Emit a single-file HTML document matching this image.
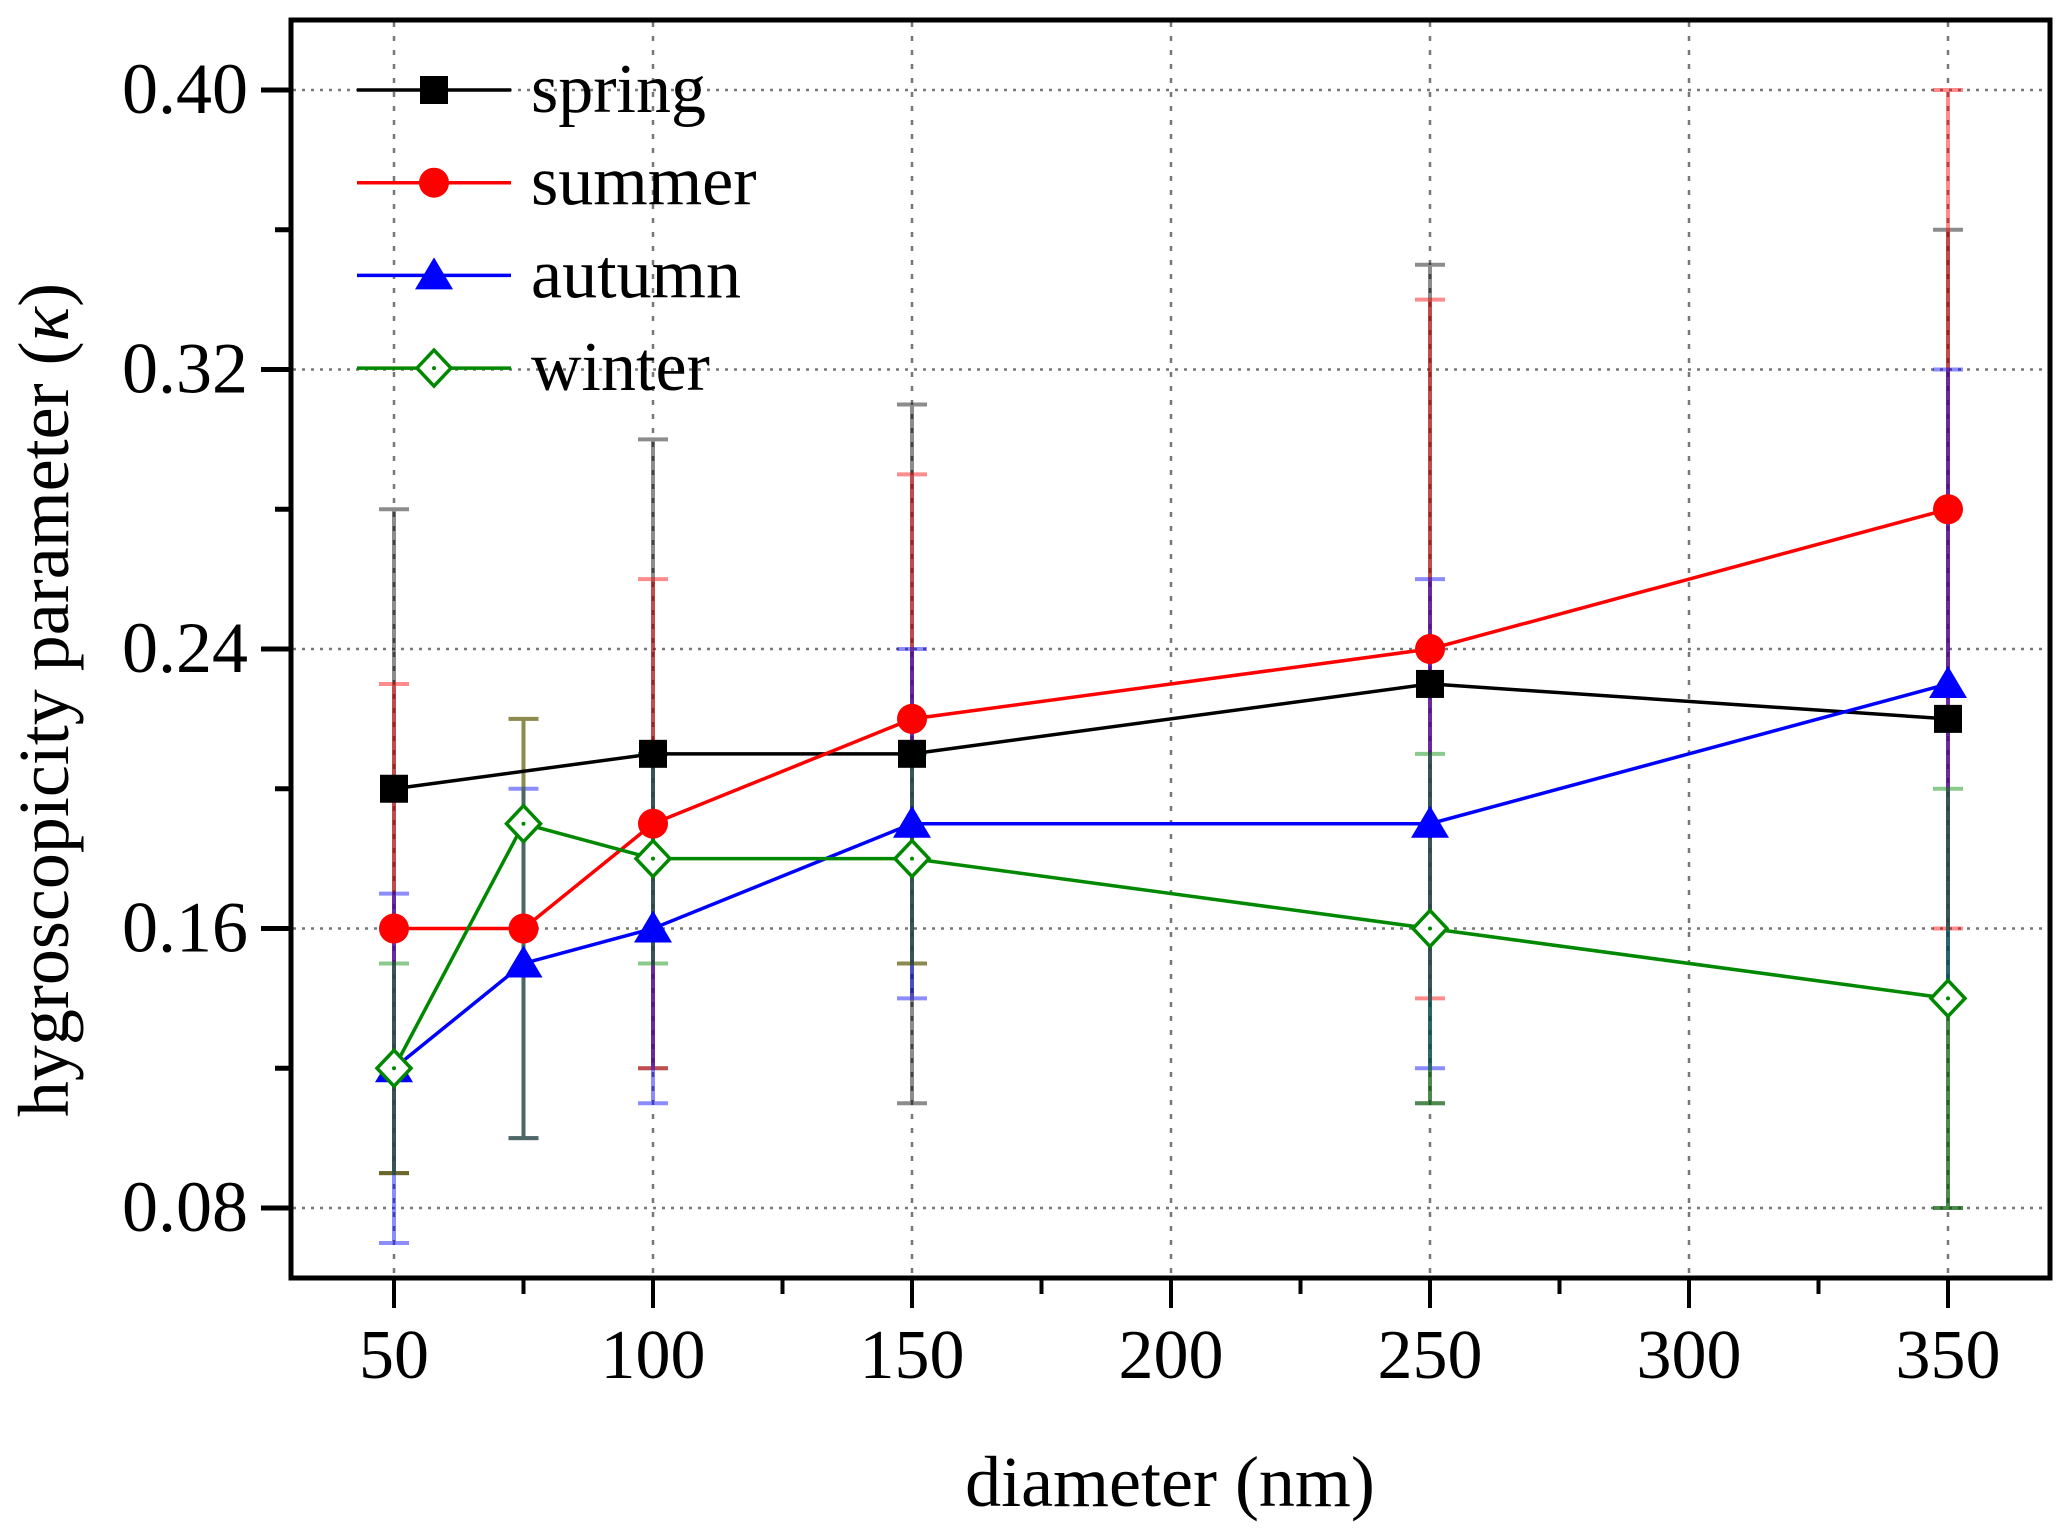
<!DOCTYPE html>
<html><head><meta charset="utf-8"><style>
html,body{margin:0;padding:0;background:#fff}
svg{display:block}
text{font-family:"Liberation Serif",serif;fill:#000}
</style></head><body>
<svg id="chart" width="2067" height="1539" viewBox="0 0 2067 1539">
<g id="grid"></g>
<g id="errs"></g>
<g id="lines"></g>
<rect x="291" y="20" width="1759" height="1258" fill="none" stroke="#000" stroke-width="5"/>
<g id="axes"></g>
<text x="1170" y="1506" font-size="72" text-anchor="middle">diameter (nm)</text>
<text transform="translate(68,700) rotate(-90)" font-size="72" text-anchor="middle">hygroscopicity parameter (<tspan font-style="italic">κ</tspan>)</text>
<g id="legend"></g>
</svg>
<script>
const xs=[50,75,100,150,250,350];
const seriesNames=["spring","summer","autumn","winter"];
const springX=[50,100,150,250,350];
const springY=[0.20,0.21,0.21,0.23,0.22];
const springLo=[0.09,0.12,0.11,0.11,0.08];
const springHi=[0.28,0.30,0.31,0.35,0.36];
const summerX=[50,75,100,150,250,350];
const summerY=[0.16,0.16,0.19,0.22,0.24,0.28];
const summerLo=[0.09,0.10,0.12,0.15,0.14,0.16];
const summerHi=[0.23,0.22,0.26,0.29,0.34,0.40];
const autumnX=[50,75,100,150,250,350];
const autumnY=[0.12,0.15,0.16,0.19,0.19,0.23];
const autumnLo=[0.07,0.10,0.11,0.14,0.12,0.14];
const autumnHi=[0.17,0.20,0.21,0.24,0.26,0.32];
const winterX=[50,75,100,150,250,350];
const winterY=[0.12,0.19,0.18,0.18,0.16,0.14];
const winterLo=[0.09,0.10,0.15,0.15,0.11,0.08];
const winterHi=[0.15,0.22,0.21,0.21,0.21,0.20];
const xTicks=[50,100,150,200,250,300,350];
const yTicks=[0.08,0.16,0.24,0.32,0.40];
const yTickLabels=["0.08","0.16","0.24","0.32","0.40"];

const NS="http://www.w3.org/2000/svg";
const X=v=>394+(v-50)*(1948-394)/300;
const Y=v=>90+(0.40-v)*(1208-90)/0.32;
function mk(p,tag,a){const e=document.createElementNS(NS,tag);for(const k in a)e.setAttribute(k,a[k]);p.appendChild(e);return e;}
const grid=document.getElementById('grid'),axes=document.getElementById('axes');
xTicks.forEach(t=>{
 const g=mk(grid,'line',{x1:X(t),x2:X(t),y1:22,y2:1276,stroke:'#777','stroke-width':2.5,'stroke-dasharray':'5,9'});
 
 
 const tk=mk(axes,'line',{x1:X(t),x2:X(t),y1:1278,y2:1308,stroke:'#000','stroke-width':4});
 
 
 const tx=mk(axes,'text',{x:X(t),y:1378,'font-size':70,'text-anchor':'middle'});
 tx.textContent=t;
 
 
});
for(let i=0;i<6;i++){const t=75+50*i;
 const tk=mk(axes,'line',{x1:X(t),x2:X(t),y1:1278,y2:1294,stroke:'#000','stroke-width':4});
 
 }
yTicks.forEach((t,i)=>{
 const g=mk(grid,'line',{x1:293,x2:2048,y1:Y(t),y2:Y(t),stroke:'#777','stroke-width':2.5,'stroke-dasharray':'3,6'});
 
 
 const tk=mk(axes,'line',{x1:261,x2:291,y1:Y(t),y2:Y(t),stroke:'#000','stroke-width':5});
 
 
 const tx=mk(axes,'text',{x:248,y:Y(t)+23,'font-size':72,'text-anchor':'end'});
 tx.textContent=yTickLabels[i];
 
 
});
[0.12,0.20,0.28,0.36].forEach(t=>{
 const tk=mk(axes,'line',{x1:275,x2:291,y1:Y(t),y2:Y(t),stroke:'#000','stroke-width':5});
 
 });

const S=[
 {n:'spring',c:'#000',x:springX,y:springY,lo:springLo,hi:springHi,m:'square'},
 {n:'summer',c:'#f00',x:summerX,y:summerY,lo:summerLo,hi:summerHi,m:'circle'},
 {n:'autumn',c:'#00f',x:autumnX,y:autumnY,lo:autumnLo,hi:autumnHi,m:'triangle'},
 {n:'winter',c:'#080',x:winterX,y:winterY,lo:winterLo,hi:winterHi,m:'diamond'}];
const errs=document.getElementById('errs'),lines=document.getElementById('lines'),leg=document.getElementById('legend');
function marker(p,m,cx,cy,c){let e;
 if(m==='square')e=mk(p,'rect',{x:cx-14,y:cy-14,width:28,height:28,fill:c});
 else if(m==='circle')e=mk(p,'circle',{cx:cx,cy:cy,r:15,fill:c});
 else if(m==='triangle')e=mk(p,'polygon',{points:`${cx},${cy-18} ${cx-19},${cy+14} ${cx+19},${cy+14}`,fill:c});
 else {e=mk(p,'polygon',{points:`${cx},${cy-18} ${cx+17},${cy} ${cx},${cy+18} ${cx-17},${cy}`,fill:'#fff',stroke:c,'stroke-width':3.5});
   mk(p,'circle',{cx:cx,cy:cy,r:2,fill:c});}
 return e;}
S.forEach((s,k)=>{
 s.x.forEach((xv,i)=>{
  const eb=mk(errs,'path',{d:`M${X(xv)},${Y(s.lo[i])}V${Y(s.hi[i])}M${X(xv)-15},${Y(s.hi[i])}h30M${X(xv)-15},${Y(s.lo[i])}h30`,stroke:s.c,'stroke-width':4,'stroke-opacity':0.45,fill:'none'});
  
  
 });
 const pl=mk(lines,'polyline',{points:s.x.map((xv,i)=>X(xv)+','+Y(s.y[i])).join(' '),fill:'none',stroke:s.c,'stroke-width':3.5});
 
 
 s.x.forEach((xv,i)=>{const e=marker(lines,s.m,X(xv),Y(s.y[i]),s.c);
  
  });
 const ly=90+k*92.7;
 const ll=mk(leg,'line',{x1:357,x2:511,y1:ly,y2:ly,stroke:s.c,'stroke-width':3.5});
 
 
 const lm=marker(leg,s.m,434,ly,s.c);
 
 
 const lt=mk(leg,'text',{x:531,y:ly+22,'font-size':70});
 lt.textContent=seriesNames[k];
 
 
});
</script>
</body></html>
